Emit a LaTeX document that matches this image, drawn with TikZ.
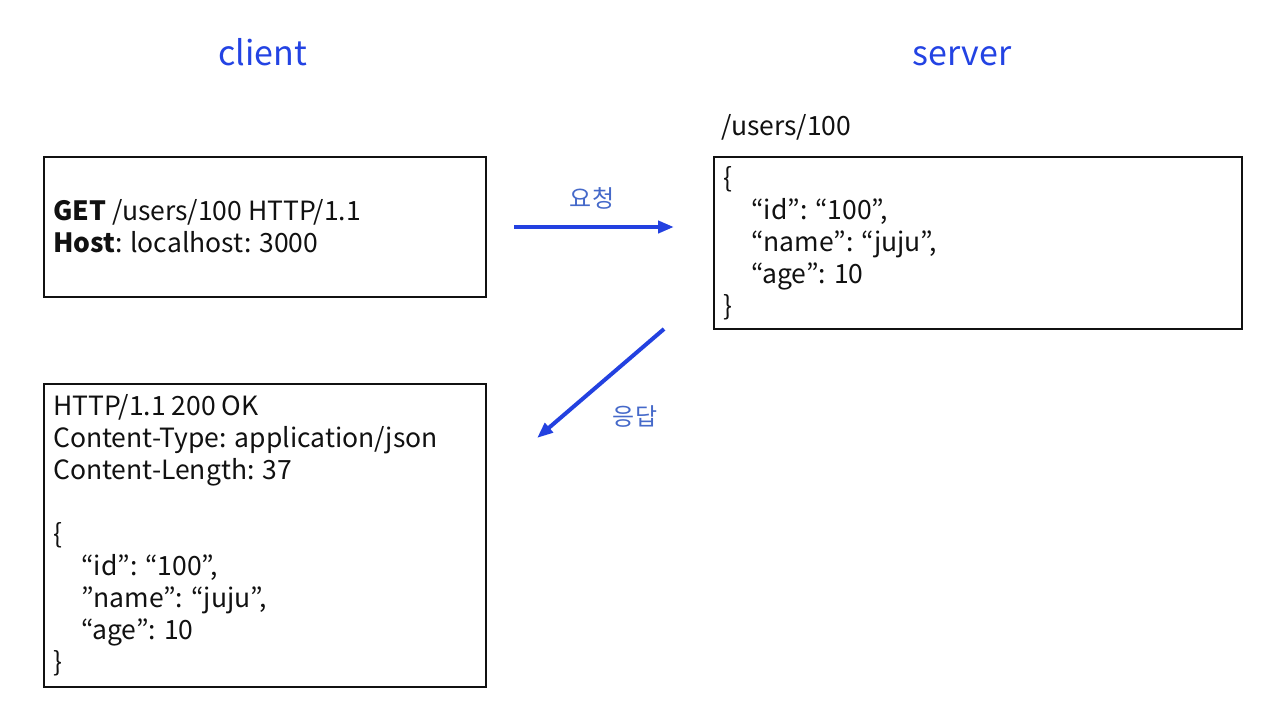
\documentclass[tikz,border=0pt]{standalone}
\usepackage{fontspec}
\setmainfont{Noto Sans CJK KR}
\usetikzlibrary{arrows.meta}
\definecolor{titleblue}{HTML}{2343E3}
\definecolor{arrowblue}{HTML}{2341E0}
\definecolor{lblblue}{HTML}{4569C9}
\definecolor{ink}{HTML}{111111}
\begin{document}
\begin{tikzpicture}[x=1pt,y=-1pt,
  box/.style={draw=ink, line width=1.5pt, inner sep=0pt, anchor=north west},
  txt/.style={inner sep=0pt, anchor=base west, align=left, text=ink,
    font=\fontsize{26.5}{31.9}\selectfont},
  title/.style={inner sep=0pt, anchor=base, text=titleblue, font=\fontsize{34}{40}\selectfont},
  lbl/.style={inner sep=0pt, text=lblblue, font=\fontsize{24}{28}\selectfont},
  flow/.style={-{Triangle[length=16pt,width=12pt]}, line width=4pt, draw=arrowblue}]
\useasboundingbox (0,0) rectangle (1280,723);
% titles
\node[title] (client) at (263,65) {client};
\node[title] (server) at (962,65) {server};
% boxes
\node[box, minimum width=442pt, minimum height=140pt] (req) at (43,156) {};
\node[box, minimum width=528pt, minimum height=172pt] (srv) at (713,156) {};
\node[box, minimum width=442pt, minimum height=303pt] (res) at (43,383) {};
% path label
\node[txt] (path) at (721,135) {/users/100};
% request text (base anchor = last line)
\node[txt] (reqtxt) at (53,252) {\textbf{GET} /users/100 HTTP/1.1\\\textbf{Host}: localhost: 3000};
% server text
\node[txt] (srvtxt) at (723,315) {\{\\\hspace*{28pt}“id”: “100”,\\\hspace*{28pt}“name”: “juju”,\\\hspace*{28pt}“age”: 10\\\}};
% response text
\node[txt] (restxt) at (53,671) {HTTP/1.1 200 OK\\Content-Type: application/json\\Content-Length: 37\\[31.9pt]\{\\\hspace*{28pt}“id”: “100”,\\\hspace*{28pt}”name”: “juju”,\\\hspace*{28pt}“age”: 10\\\}};
% arrows
\coordinate (a1s) at (514,227);
\coordinate (a1e) at (674,227);
\draw[flow] (a1s) -- (a1e);
\node[lbl] (l1) at (592,198) {요청};
\coordinate (a2s) at (664,329);
\coordinate (a2e) at (537,438);
\draw[flow] (a2s) -- (a2e);
\node[lbl] (l2) at (635,417) {응답};
\end{tikzpicture}
\end{document}
